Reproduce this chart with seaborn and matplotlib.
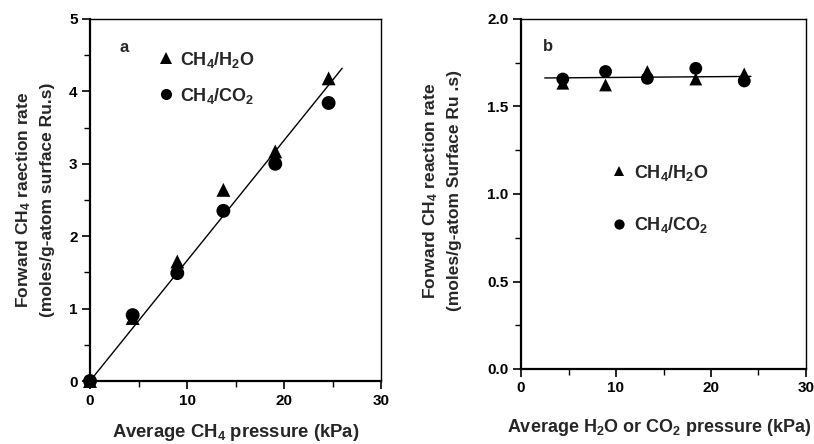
import matplotlib
matplotlib.use("Agg")
import matplotlib.pyplot as plt
import seaborn as sns
import pandas as pd
from matplotlib.ticker import MultipleLocator

# ---------------- data ----------------
lab_h2o = r"CH$_4$/H$_2$O"
lab_co2 = r"CH$_4$/CO$_2$"

a_x_h2o = [0.0, 4.4, 9.0, 13.75, 19.1, 24.6]
a_y_h2o = [0.0, 0.87, 1.65, 2.64, 3.17, 4.18]
a_x_co2 = [0.0, 4.4, 9.0, 13.75, 19.1, 24.6]
a_y_co2 = [0.0, 0.91, 1.49, 2.35, 3.00, 3.84]
a_fit_x = [0.0, 26.0]
a_fit_y = [0.0, 4.32]

b_x_h2o = [4.4, 8.9, 13.3, 18.4, 23.5]
b_y_h2o = [1.633, 1.623, 1.70, 1.657, 1.686]
b_x_co2 = [4.4, 8.9, 13.3, 18.4, 23.5]
b_y_co2 = [1.657, 1.70, 1.661, 1.718, 1.646]
b_fit_x = [2.5, 24.2]
b_fit_y = [1.663, 1.672]

a_xticks = [0, 10, 20, 30]
a_yticks = [0, 1, 2, 3, 4, 5]
b_xticks = [0, 10, 20, 30]
b_yticks = [0.0, 0.5, 1.0, 1.5, 2.0]

a_xlabel = r"Average CH$_4$ pressure (kPa)"
a_ylabel = "Forward CH$_4$ raection rate\n(moles/g-atom surface Ru.s)"
b_xlabel = r"Average H$_2$O or CO$_2$ pressure (kPa)"
b_ylabel = "Forward CH$_4$ reaction rate\n(moles/g-atom Surface Ru .s)"

# ---------------- style ----------------
sns.set_theme(style="ticks")
plt.rcParams["font.family"] = ["Liberation Sans", "DejaVu Sans"]
plt.rcParams["font.weight"] = "bold"
plt.rcParams["mathtext.default"] = "regular"
plt.rcParams["axes.labelweight"] = "bold"

fig = plt.figure(figsize=(8.14, 4.44), dpi=100)
ax_a = fig.add_axes([90 / 814, 1 - 381 / 444, 291 / 814, 362 / 444])
ax_b = fig.add_axes([521 / 814, 1 - 369 / 444, 285 / 814, 350 / 444])

markers = {lab_h2o: "^", lab_co2: "o"}


def make_df(xh, yh, xc, yc):
    return pd.DataFrame({
        "x": list(xh) + list(xc),
        "y": list(yh) + list(yc),
        "series": [lab_h2o] * len(xh) + [lab_co2] * len(xc),
    })


df_a = make_df(a_x_h2o, a_y_h2o, a_x_co2, a_y_co2)
df_b = make_df(b_x_h2o, b_y_h2o, b_x_co2, b_y_co2)

for ax, df, fx, fy, size in [(ax_a, df_a, a_fit_x, a_fit_y, 100),
                             (ax_b, df_b, b_fit_x, b_fit_y, 85)]:
    sns.lineplot(x=fx, y=fy, ax=ax, color="black", linewidth=1.0, zorder=2)
    sns.scatterplot(data=df, x="x", y="y", style="series", markers=markers,
                    color="black", edgecolor="black", linewidth=0, s=size,
                    ax=ax, zorder=3, clip_on=False)


def fmt(ax, xticks, yticks, xlim, ylim, yfmt):
    ax.set_xlim(*xlim)
    ax.set_ylim(*ylim)
    ax.set_xticks(xticks)
    ax.set_yticks(yticks)
    ax.set_yticklabels([yfmt.format(v) for v in yticks])
    ax.set_xticklabels([str(v) for v in xticks])
    ax.xaxis.set_minor_locator(MultipleLocator(5))
    ax.yaxis.set_minor_locator(MultipleLocator((yticks[1] - yticks[0]) / 2))
    ax.tick_params(axis="both", which="major", direction="out", length=6,
                   width=1.2, labelsize=11, pad=3, colors="black")
    ax.tick_params(axis="both", which="minor", direction="out", length=4,
                   width=1.0, colors="black")
    for t in ax.get_xticklabels() + ax.get_yticklabels():
        t.set_fontweight("bold")
    for side in ["left", "bottom"]:
        ax.spines[side].set_linewidth(1.6)
        ax.spines[side].set_color("black")
    for side in ["top", "right"]:
        ax.spines[side].set_linewidth(1.0)
        ax.spines[side].set_color("black")
        ax.spines[side].set_visible(True)
    ax.set_facecolor("white")


fmt(ax_a, a_xticks, a_yticks, (0, 30), (0, 5), "{:d}")
fmt(ax_b, b_xticks, b_yticks, (0, 30), (0, 2.0), "{:.1f}")

ax_a.set_xlabel(a_xlabel, fontsize=13.3, fontweight="bold")
ax_a.set_ylabel(a_ylabel, fontsize=12.5, fontweight="bold", linespacing=1.55)
ax_a.xaxis.set_label_coords(0.5, -0.112)
ax_a.yaxis.set_label_coords(-0.12, 0.5)
ax_b.set_xlabel(b_xlabel, fontsize=13, fontweight="bold")
ax_b.set_ylabel(b_ylabel, fontsize=12.5, fontweight="bold", linespacing=1.55)
ax_b.xaxis.set_label_coords(0.486, -0.137)
ax_b.yaxis.set_label_coords(-0.207, 0.509)

ax_a.text(0.117, 0.92, "a", transform=ax_a.transAxes, fontsize=12,
          fontweight="bold", ha="center", va="center")
ax_b.text(0.095, 0.92, "b", transform=ax_b.transAxes, fontsize=12,
          fontweight="bold", ha="center", va="center")

for ax, anchor, spacing in [(ax_a, (0.235, 0.838), 0.9),
                            (ax_b, (0.32, 0.486), 1.8)]:
    h, l = ax.get_legend_handles_labels()
    leg = ax.legend(h, l, loc="center left", bbox_to_anchor=anchor,
                    frameon=False, fontsize=13, handlelength=0.8,
                    handletextpad=0.4, labelspacing=spacing, borderpad=0,
                    borderaxespad=0, markerscale=0.8)
    for t in leg.get_texts():
        t.set_fontweight("bold")

fig.savefig("out.png", dpi=100, facecolor="white")
